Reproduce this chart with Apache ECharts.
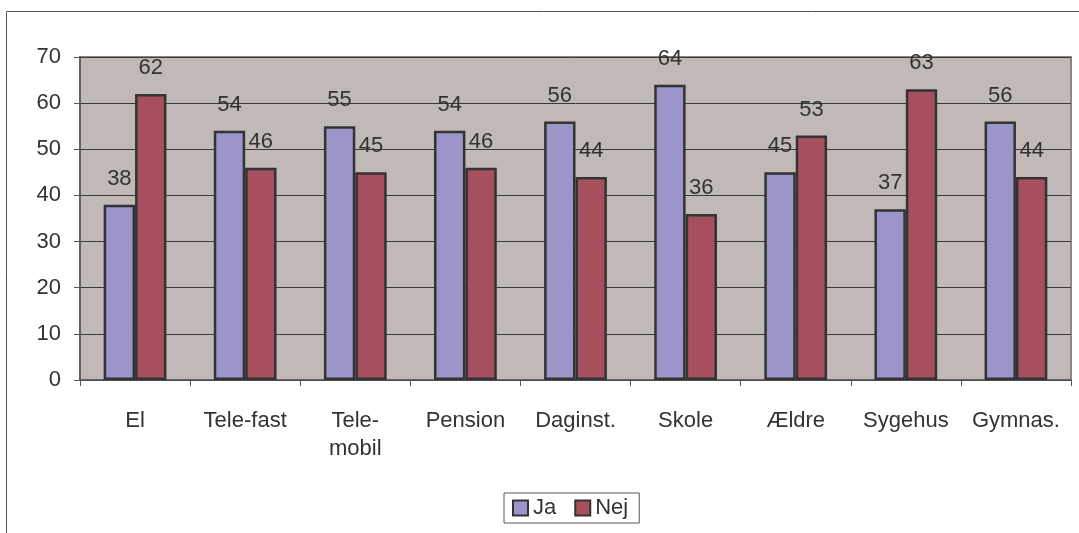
<!DOCTYPE html>
<html>
<head>
<meta charset="utf-8">
<script src="https://cdn.jsdelivr.net/npm/echarts@6/dist/echarts.min.js"></script>
<style>
  html, body { margin: 0; padding: 0; background: #fff; }
  #chart { width: 1079px; height: 533px; }
</style>
</head>
<body>
<div id="chart"></div>
<script>
const categories = ['El', 'Tele-fast', 'Tele-\nmobil', 'Pension', 'Daginst.', 'Skole', 'Ældre', 'Sygehus', 'Gymnas.']
const jaValues = [38, 54, 55, 54, 56, 64, 45, 37, 56]
const nejValues = [62, 46, 45, 46, 44, 36, 53, 63, 44]
const yTicks = { min: 0, max: 70, interval: 10 }

const FONT = 'Liberation Sans, Arial, sans-serif'
const TEXT = '#333333'

const chart = echarts.init(document.getElementById('chart'))

function barSeries(name, data, color) {
  return {
    name,
    type: 'bar',
    data,
    barGap: '0%',
    barCategoryGap: '43%',
    itemStyle: { color, borderColor: '#333333', borderWidth: 2.5 },
    label: {
      show: true,
      position: 'top',
      distance: 15,
      color: TEXT,
      fontSize: 22,
      fontFamily: FONT,
    },
  }
}

chart.setOption({
  animation: false,
  textStyle: { fontFamily: FONT },
  graphic: [{
    type: 'rect',
    shape: { x: 6.5, y: 11.5, width: 1200, height: 700 },
    style: { fill: 'none', stroke: '#555555', lineWidth: 1 },
    z: -10,
  }],
  grid: {
    left: 80, right: 8, top: 57, bottom: 153,
    show: true,
    backgroundColor: '#C1B9B7',
    borderColor: '#8E8584',
    borderWidth: 2,
  },
  legend: {
    bottom: 10,
    left: 504,
    itemWidth: 15,
    itemHeight: 15,
    itemGap: 18,
    padding: [4, 11, 4, 8],
    borderColor: '#555555',
    borderWidth: 1,
    icon: 'rect',
    itemStyle: { borderColor: '#333333', borderWidth: 2 },
    textStyle: { fontSize: 22, color: TEXT },
    data: ['Ja', 'Nej'],
  },
  xAxis: {
    type: 'category',
    data: categories,
    axisLine: { lineStyle: { color: '#555555', width: 1.5 } },
    axisTick: { show: true, length: 6, interval: 0, lineStyle: { color: '#555555' } },
    axisLabel: { color: TEXT, fontSize: 22, margin: 27, lineHeight: 28, interval: 0, hideOverlap: false },
  },
  yAxis: {
    type: 'value',
    min: yTicks.min,
    max: yTicks.max,
    interval: yTicks.interval,
    axisLine: { show: true, lineStyle: { color: '#555555', width: 1.5 } },
    axisTick: { show: true, length: 6, lineStyle: { color: '#555555' } },
    axisLabel: { color: TEXT, fontSize: 22, margin: 19 },
    splitLine: { lineStyle: { color: '#3A3A3A', width: 1 } },
  },
  series: [
    barSeries('Ja', jaValues, '#9B95C9'),
    barSeries('Nej', nejValues, '#A54F5F'),
  ],
})
</script>
</body>
</html>
